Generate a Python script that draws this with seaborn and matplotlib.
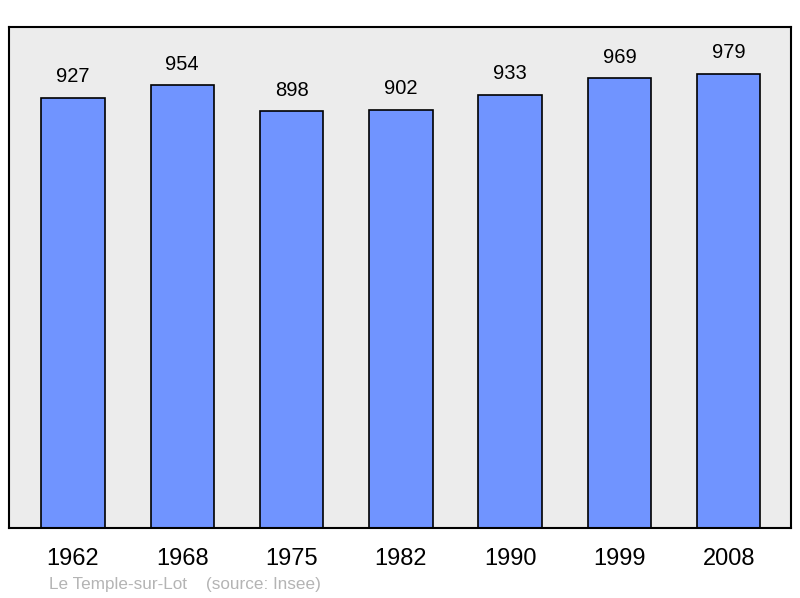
import matplotlib
matplotlib.use("Agg")
import matplotlib.pyplot as plt
import seaborn as sns
import pandas as pd

years = ["1962", "1968", "1975", "1982", "1990", "1999", "2008"]
population = [927, 954, 898, 902, 933, 969, 979]
footer = "Le Temple-sur-Lot    (source: Insee)"

sns.set_style("white")
plt.rcParams["font.family"] = ["Liberation Sans", "DejaVu Sans"]

df = pd.DataFrame({"year": years, "pop": population})

fig = plt.figure(figsize=(8.0, 5.98), dpi=100)
ax = fig.add_axes([9/800, 1 - 528/598, 782/800, 501/598])
ax.set_facecolor("#ececec")

sns.barplot(data=df, x="year", y="pop", color="#7094ff", saturation=1,
            width=0.58, edgecolor="black", linewidth=1.2, ax=ax)

for i, v in enumerate(population):
    ax.annotate(str(v), (i, v), xytext=(0, 8.5), textcoords="offset points",
                ha="center", va="bottom", fontsize=14.5, color="black")

ax.set_xlim(-0.585, 6.57)
ax.set_ylim(0, 1080)
ax.set_yticks([])
ax.set_xlabel("")
ax.set_ylabel("")
ax.tick_params(axis="x", length=0, labelsize=17, pad=14.5, labelcolor="black")
for s in ax.spines.values():
    s.set_visible(True)
    s.set_color("black")
    s.set_linewidth(1.5)

fig.text(49/800, 1 - 584/598, footer, fontsize=12.3, color="#b4b4b4",
         ha="left", va="center")

fig.savefig("out.png", dpi=100)
